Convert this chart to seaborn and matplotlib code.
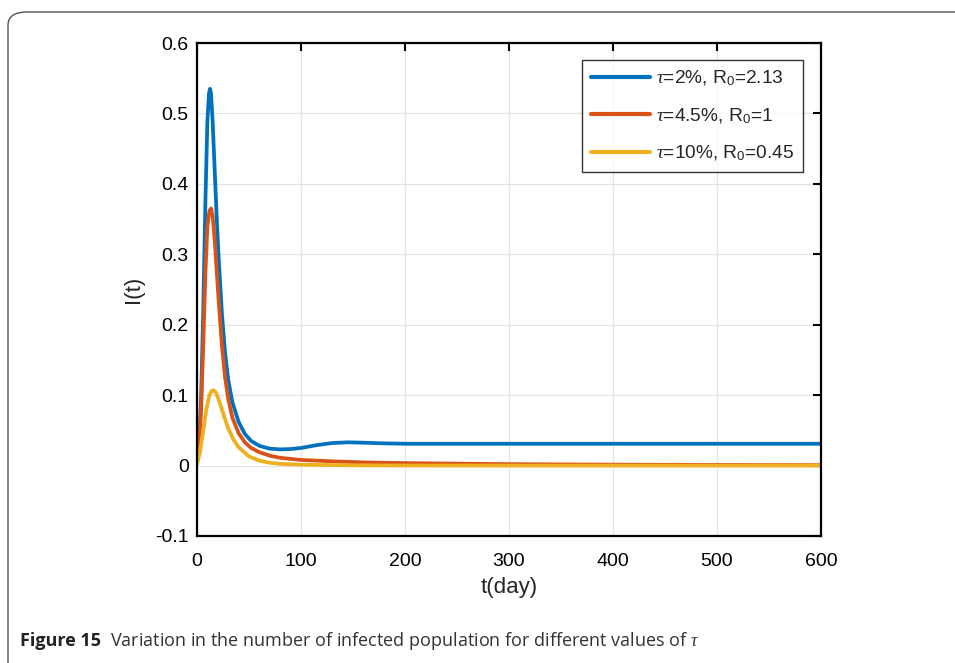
import numpy as np
import pandas as pd
import matplotlib
matplotlib.use("Agg")
import matplotlib.pyplot as plt
import seaborn as sns
from matplotlib.patches import FancyBboxPatch

# ---- data ----
t_blue = [0, 2, 4, 6, 8, 10, 11.5, 12.5, 13.5, 15, 17, 19, 21, 24, 27, 30, 34, 40, 46, 52, 60, 70, 80, 90, 100, 115, 130, 145, 160, 180, 200, 250, 300, 400, 500, 600]
I_blue = [0.003, 0.03, 0.10, 0.22, 0.37, 0.49, 0.528, 0.535, 0.528, 0.49, 0.42, 0.35, 0.29, 0.215, 0.16, 0.122, 0.09, 0.062, 0.045, 0.035, 0.028, 0.024, 0.023, 0.0235, 0.025, 0.029, 0.032, 0.033, 0.0325, 0.0315, 0.031, 0.031, 0.031, 0.031, 0.031, 0.031]

t_orange = [0, 2, 4, 6, 8, 10, 12, 13.5, 15, 17, 19, 21, 24, 27, 30, 34, 40, 46, 52, 60, 70, 80, 100, 130, 160, 200, 250, 300, 400, 500, 600]
I_orange = [0.003, 0.025, 0.08, 0.17, 0.27, 0.34, 0.362, 0.365, 0.355, 0.32, 0.275, 0.23, 0.17, 0.125, 0.095, 0.068, 0.046, 0.033, 0.025, 0.019, 0.014, 0.011, 0.008, 0.006, 0.0045, 0.0035, 0.0027, 0.002, 0.0013, 0.0009, 0.0006]

t_yellow = [0, 3, 6, 9, 12, 14, 16, 18, 20, 23, 26, 30, 35, 40, 50, 60, 70, 80, 100, 150, 200, 300, 400, 500, 600]
I_yellow = [0.002, 0.02, 0.05, 0.08, 0.1, 0.106, 0.107, 0.104, 0.097, 0.084, 0.07, 0.053, 0.037, 0.026, 0.013, 0.007, 0.004, 0.0025, 0.0012, 0.0004, 0.0001, 0.0, 0.0, 0.0, 0.0]

labels = [r'$\tau$=2%, R$_0$=2.13', r'$\tau$=4.5%, R$_0$=1', r'$\tau$=10%, R$_0$=0.45']
colors = ['#0072BD', '#D95319', '#EDB120']

xticks = [0, 100, 200, 300, 400, 500, 600]
yticks = [-0.1, 0, 0.1, 0.2, 0.3, 0.4, 0.5, 0.6]
ytick_labels = ['-0.1', '0', '0.1', '0.2', '0.3', '0.4', '0.5', '0.6']

caption_bold = 'Figure 15'
caption_text = r'Variation in the number of infected population for different values of $\tau$'

df = pd.concat([
    pd.DataFrame({'t': t_blue, 'I': I_blue, 'series': labels[0]}),
    pd.DataFrame({'t': t_orange, 'I': I_orange, 'series': labels[1]}),
    pd.DataFrame({'t': t_yellow, 'I': I_yellow, 'series': labels[2]}),
])

sns.set_style('white')
plt.rcParams['font.family'] = ['Liberation Sans', 'DejaVu Sans']
plt.rcParams['mathtext.fontset'] = 'custom'
plt.rcParams['mathtext.rm'] = 'Liberation Sans'
plt.rcParams['mathtext.it'] = 'Liberation Serif:italic'

fig = plt.figure(figsize=(9.55, 6.63), dpi=100)
W, H = 955, 663
ax = fig.add_axes([197 / W, 1 - 536 / H, (821 - 197) / W, (536 - 43) / H])

sns.lineplot(data=df, x='t', y='I', hue='series', palette=colors, linewidth=2.7,
             ax=ax, estimator=None, sort=False, legend=True)

ax.set_xlim(0, 600)
ax.set_ylim(-0.1, 0.6)
ax.set_xticks(xticks)
ax.set_xticklabels([str(v) for v in xticks])
ax.set_yticks(yticks)
ax.set_yticklabels(ytick_labels)
ax.grid(True, color='#e3e3e3', linewidth=0.9)
ax.tick_params(direction='in', length=6, width=1.5, top=True, right=True,
               labelsize=14, colors='black', pad=6)
ax.tick_params(axis='x', pad=12)
for s in ax.spines.values():
    s.set_visible(True)
    s.set_linewidth(1.6)
    s.set_color('black')
ax.set_xlabel('t(day)', fontsize=16, labelpad=5)
ax.set_ylabel('I(t)', fontsize=16, labelpad=8)

leg = ax.legend(loc='upper right', bbox_to_anchor=(0.971, 0.9655), fontsize=13.8,
                frameon=True, fancybox=False, edgecolor='black', handlelength=3.1,
                borderpad=0.45, labelspacing=0.95, handletextpad=0.3, borderaxespad=0)
leg.get_frame().set_linewidth(1.0)
for line in leg.get_lines():
    line.set_linewidth(3)

# outer rounded frame
frame = FancyBboxPatch((8 / W, -0.05), 1.2, 1 - 12 / H + 0.05,
                       boxstyle='round,pad=0,rounding_size=0.02',
                       transform=fig.transFigure, fill=False, edgecolor='#555555',
                       linewidth=1.0, clip_on=False)
fig.add_artist(frame)

t1 = fig.text(20 / W, 1 - 641 / H, caption_bold, fontsize=13, fontweight='bold',
              family=['Open Sans', 'DejaVu Sans'], va='center', color='#222222')
fig.canvas.draw()
bb = t1.get_window_extent()
fig.text((bb.x1 + 9) / W, 1 - 641 / H, caption_text, fontsize=13,
         family=['Open Sans', 'DejaVu Sans'], va='center', color='#333333')

fig.savefig('out.png', dpi=100)
